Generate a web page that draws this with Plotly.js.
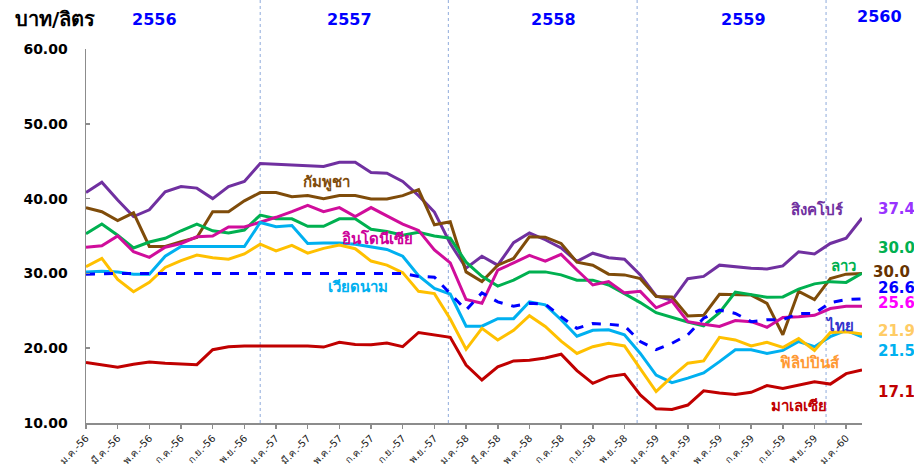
<!DOCTYPE html>
<html><head><meta charset="utf-8">
<script src="https://cdn.plot.ly/plotly-3.0.1.min.js"></script>
<style>html,body{margin:0;padding:0;background:#fff}#chart{width:914px;height:468px}</style>
</head><body><div id="chart"></div>
<script>
// months Jan-2556 .. Feb-2560 (50 monthly points)
const monthNames = ["ม.ค.","ก.พ.","มี.ค.","เม.ย.","พ.ค.","มิ.ย.","ก.ค.","ส.ค.","ก.ย.","ต.ค.","พ.ย.","ธ.ค."];
const startYear = 56;
const nMonths = 50;

const singapore = [40.8,42.2,39.8,37.6,38.5,40.9,41.6,41.4,40.0,41.6,42.3,44.7,44.6,44.5,44.4,44.3,44.85,44.85,43.5,43.4,42.3,40.4,38.2,34.0,30.7,32.3,31.1,34.1,35.4,34.5,33.4,31.6,32.7,32.1,31.9,29.8,27.0,26.4,29.3,29.6,31.1,30.9,30.7,30.6,31.0,32.9,32.6,34.0,34.7,37.4];
const cambodia = [38.8,38.25,37.05,38.1,33.6,33.6,34.25,34.8,38.25,38.25,39.7,40.8,40.8,40.25,40.4,40.0,40.4,40.4,39.95,39.95,40.4,41.2,36.5,36.9,30.2,28.9,31.1,32.0,34.9,34.85,34.0,31.5,31.1,29.9,29.8,29.3,26.9,26.85,24.3,24.4,27.2,27.1,27.1,26.0,21.8,27.6,26.5,29.3,29.9,30.0];
const laos = [35.3,36.6,35.1,33.4,34.2,34.7,35.7,36.6,35.7,35.4,35.8,37.8,37.3,37.3,36.3,36.3,37.3,37.3,35.9,35.6,35.1,35.5,35.0,34.7,31.5,29.6,28.3,29.1,30.2,30.2,29.8,29.1,29.1,28.45,27.3,26.1,24.75,24.1,23.5,23.0,24.75,27.5,27.1,26.8,26.85,27.9,28.6,28.9,28.8,30.0];
const indonesia = [33.5,33.7,35.0,32.9,32.15,33.5,34.0,34.9,35.0,36.2,36.2,36.8,37.5,38.25,39.1,38.25,38.8,37.6,38.8,37.7,36.6,35.75,33.15,31.4,26.5,26.0,30.45,31.4,32.4,31.65,32.55,30.45,28.45,28.9,27.4,27.6,25.4,26.3,23.55,23.2,22.9,23.7,23.55,22.8,24.1,24.2,24.4,25.3,25.6,25.6];
const thailand = [29.9,30.0,30.0,30.0,30.0,30.0,30.0,30.0,30.0,30.0,30.0,30.0,30.0,30.0,30.0,30.0,29.9,29.9,29.9,30.0,30.0,29.6,29.5,27.3,25.1,27.4,26.2,25.6,26.0,25.9,24.2,22.65,23.3,23.2,23.0,20.9,19.8,20.65,21.8,24.0,25.1,24.65,23.55,23.8,23.8,24.65,24.65,26.1,26.5,26.6];
const vietnam = [30.2,30.3,30.2,29.9,29.9,32.3,33.6,33.6,33.6,33.6,33.6,36.8,36.25,36.4,34.0,34.05,34.05,33.9,33.6,33.2,32.3,29.7,28.0,27.25,22.95,22.95,23.95,23.95,26.2,25.8,23.8,21.6,22.4,22.45,21.8,19.3,16.4,15.4,16.0,16.7,18.2,19.8,19.8,19.3,19.7,20.9,20.2,21.55,22.4,21.5];
const philippines = [30.9,32.0,29.2,27.55,28.8,30.8,31.7,32.45,32.1,31.9,32.6,33.9,33.0,33.75,32.7,33.35,33.8,33.3,31.65,31.1,30.1,27.6,27.3,23.9,19.85,22.65,21.1,22.4,24.35,22.9,20.95,19.3,20.2,20.65,20.3,17.3,14.2,16.2,18.0,18.3,21.45,21.1,20.3,20.8,20.1,21.3,19.7,22.1,22.2,21.9];
const malaysia = [18.1,17.75,17.45,17.85,18.15,18.0,17.9,17.8,19.8,20.2,20.3,20.3,20.2,20.3,20.3,20.15,20.8,20.5,20.45,20.7,20.2,22.1,21.8,21.45,17.75,15.75,17.5,18.3,18.4,18.7,19.2,17.0,15.3,16.2,16.5,13.75,11.9,11.8,12.4,14.3,14.0,13.8,14.1,15.0,14.6,15.1,15.5,15.2,16.6,17.1];

const yearLabels = ["2556","2557","2558","2559","2560"];
const yearLabelX = [0.088, 0.340, 0.603, 0.847, 1.022];
const dividers = [11.0, 22.88, 34.8, 46.73];
const lastValueLabels = ["37.4","30.0","30.0","26.6","25.6","21.9","21.5","17.1"];
const lastValueY = [38.55, 33.45, 30.15, 28.05, 26.05, 22.3, 19.6, 14.2];

const x = [...Array(nMonths).keys()];
const tickvals = x.filter(i => i % 2 === 0);
const ticktext = tickvals.map(i => monthNames[i % 12] + "-" + (startYear + Math.floor(i / 12)));

const font = "Tahoma, 'DejaVu Sans', 'Noto Sans', sans-serif";
function line(y, color, name, dash) {
  return {x: x, y: y, type: "scatter", mode: "lines", name: name,
          line: {color: color, width: 3, dash: dash || "solid"}, hoverinfo: "skip"};
}
const traces = [
  line(singapore, "#7030A0", "สิงคโปร์"),
  line(cambodia, "#7F4C0A", "กัมพูชา"),
  line(laos, "#00B050", "ลาว"),
  line(indonesia, "#D00D9B", "อินโดนีเซีย"),
  line(vietnam, "#00B0F0", "เวียดนาม"),
  line(philippines, "#FFC000", "ฟิลิปปินส์"),
  line(malaysia, "#C00000", "มาเลเซีย"),
  line(thailand, "#0000FF", "ไทย", "dash")
];

const ann = [];
ann.push({xref: "paper", yref: "paper", x: -0.094, y: 1.081, text: "<b>บาท/ลิตร</b>", showarrow: false,
          xanchor: "left", yanchor: "middle", font: {family: font, size: 20, color: "#000"}});
yearLabels.forEach((t, i) => ann.push({xref: "paper", yref: "paper", x: yearLabelX[i], y: i === 4 ? 1.086 : 1.080,
  text: "<b>" + t + "</b>", showarrow: false, xanchor: "center", yanchor: "middle",
  font: {family: font, size: 16, color: "#0000FF"}}));
const valColors = ["#9933FF","#00B050","#663300","#0000FF","#FF00FF","#FFCC66","#00B0F0","#C00000"];
lastValueLabels.forEach((t, i) => ann.push({xref: "paper", yref: "y", x: i === 2 ? 1.011 : 1.018, y: lastValueY[i],
  text: "<b>" + t + "</b>", showarrow: false, xanchor: "left", yanchor: "middle",
  font: {family: font, size: 15, color: valColors[i]}}));
const names = [
  ["กัมพูชา", 15.2, 42.2, "#7F4C0A"],
  ["อินโดนีเซีย", 18.4, 34.6, "#CC0099"],
  ["เวียดนาม", 17.2, 28.2, "#00B0F0"],
  ["สิงคโปร์", 46.2, 38.6, "#7030A0"],
  ["ลาว", 47.8, 31.0, "#00B050"],
  ["ไทย", 47.6, 23.0, "#3333CC"],
  ["ฟิลิปปินส์", 45.7, 18.0, "#FF9933"],
  ["มาเลเซีย", 45.0, 12.3, "#C00000"]
];
names.forEach(n => ann.push({xref: "x", yref: "y", x: n[1], y: n[2], text: "<b>" + n[0] + "</b>",
  showarrow: false, xanchor: "center", yanchor: "middle", font: {family: font, size: 15, color: n[3]}}));

const shapes = dividers.map(d => ({type: "line", xref: "x", yref: "paper", x0: d, x1: d, y0: 0, y1: 1.131,
  line: {color: "#8EAADB", width: 1, dash: "dot"}, layer: "below"}));

const layout = {
  width: 914, height: 468,
  margin: {l: 86, r: 52, t: 49, b: 45},
  paper_bgcolor: "#fff", plot_bgcolor: "#fff",
  showlegend: false,
  font: {family: font},
  xaxis: {range: [0, 49], tickvals: tickvals, ticktext: ticktext, tickangle: -45,
          showgrid: false, zeroline: false, showline: true, linecolor: "#8C8C8C", linewidth: 1.5,
          ticks: "outside", ticklen: 4, tickcolor: "#8C8C8C", tickwidth: 1.5,
          tickfont: {family: font, size: 10, color: "#222"}},
  yaxis: {range: [10, 60], tickvals: [10,20,30,40,50,60], tickformat: ".2f",
          showgrid: false, zeroline: false, showline: true, linecolor: "#8C8C8C", linewidth: 1.5,
          ticks: "inside", ticklen: 4, tickcolor: "#8C8C8C", tickwidth: 1.5, ticklabelstandoff: 14,
          tickfont: {family: font, size: 14, color: "#000", weight: "bold"}},
  annotations: ann,
  shapes: shapes
};
Plotly.newPlot("chart", traces, layout, {displayModeBar: false, staticPlot: true});
</script></body></html>
